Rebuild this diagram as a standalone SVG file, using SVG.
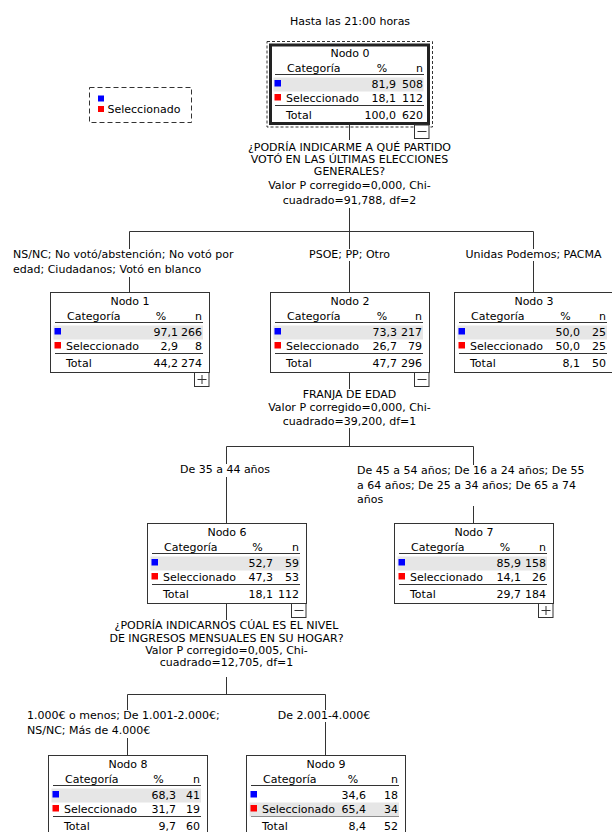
<svg xmlns="http://www.w3.org/2000/svg" width="612" height="832" viewBox="0 0 612 832">
<style>
text{font-family:"DejaVu Sans","Liberation Sans",sans-serif;font-size:11px;fill:#000}
.m{text-anchor:middle}
.e{text-anchor:end}
.ln{stroke:#333;stroke-width:1;fill:none}
.box{fill:#fff;stroke:#333;stroke-width:1}
.band{fill:#e6e6e6}
.blue{fill:#0000ff}
.red{fill:#ff0000}
.tg{fill:#fff;stroke:#333;stroke-width:1}
</style>
<rect width="612" height="832" fill="#fff"/>
<text class="m" x="350" y="25">Hasta las 21:00 horas</text>

<g id="legend">
<rect x="89.5" y="87.5" width="102" height="35" fill="none" stroke="#333" stroke-dasharray="5,3"/>
<rect class="blue" x="98" y="95.5" width="6" height="6"/>
<rect class="red" x="98" y="106" width="6" height="6"/>
<text x="107.5" y="112.5">Seleccionado</text>
</g>

<g id="connectors" class="ln">
<path d="M349.5 125V140M349.5 208V231.5M129.5 231.5H533.5"/>
<path d="M129.5 231.5V249M129.5 277V292"/>
<path d="M349.5 231.5V249M349.5 261V292"/>
<path d="M533.5 231.5V249M533.5 261V292"/>
<path d="M349.5 372V389M349.5 428V446.5M226.5 446.5H473.5"/>
<path d="M226.5 446.5V464M226.5 477V523"/>
<path d="M473.5 446.5V465M473.5 506V523"/>
<path d="M226.5 603V620M226.5 677V694.5M127.5 694.5H325.5"/>
<path d="M127.5 694.5V710M127.5 738V755"/>
<path d="M325.5 694.5V710M325.5 722V755"/>
</g>

<g id="split0">
<text class="m" x="349.5" y="151">¿PODRÍA INDICARME A QUÉ PARTIDO</text>
<text class="m" x="349.5" y="163">VOTÓ EN LAS ÚLTIMAS ELECCIONES</text>
<text class="m" x="349.5" y="175">GENERALES?</text>
<text class="m" x="349.5" y="189">Valor P corregido=0,000, Chi-</text>
<text class="m" x="349.5" y="203.5">cuadrado=91,788, df=2</text>
</g>
<g id="split2">
<text class="m" x="349.5" y="398">FRANJA DE EDAD</text>
<text class="m" x="349.5" y="411">Valor P corregido=0,000, Chi-</text>
<text class="m" x="349.5" y="424.5">cuadrado=39,200, df=1</text>
</g>
<g id="split6">
<text class="m" x="226.5" y="629">¿PODRÍA INDICARNOS CÚAL ES EL NIVEL</text>
<text class="m" x="226.5" y="641.5">DE INGRESOS MENSUALES EN SU HOGAR?</text>
<text class="m" x="226.5" y="653.5">Valor P corregido=0,005, Chi-</text>
<text class="m" x="226.5" y="666">cuadrado=12,705, df=1</text>
</g>

<g id="branch-labels">
<text x="13" y="258">NS/NC; No votó/abstención; No votó por</text>
<text x="13" y="273">edad; Ciudadanos; Votó en blanco</text>
<text class="m" x="349.5" y="258">PSOE; PP; Otro</text>
<text class="m" x="533.5" y="258">Unidas Podemos; PACMA</text>
<text class="m" x="225" y="473">De 35 a 44 años</text>
<text x="357" y="474">De 45 a 54 años; De 16 a 24 años; De 55</text>
<text x="357" y="488.5">a 64 años; De 25 a 34 años; De 65 a 74</text>
<text x="357" y="503">años</text>
<text x="27" y="719">1.000€ o menos; De 1.001-2.000€;</text>
<text x="27" y="734">NS/NC; Más de 4.000€</text>
<text class="m" x="324" y="719">De 2.001-4.000€</text>
</g>

<g id="node0">
<rect x="267" y="41.5" width="165.5" height="85.5" fill="none" stroke="#333" stroke-dasharray="3,2"/>
<rect x="270.5" y="45" width="158" height="78.5" fill="#fff" stroke="#222" stroke-width="3"/>
<g transform="translate(270,44)">
<text class="m" x="80" y="13">Nodo 0</text>
<text x="17" y="28">Categoría</text><text class="m" x="112" y="28">%</text><text class="e" x="153" y="28">n</text>
<path class="ln" d="M5 30.5H154M5 61.5H154"/>
<rect class="band" x="3.5" y="33.5" width="150" height="14"/>
<rect class="blue" x="4.5" y="36" width="6.5" height="6.5"/>
<text class="e" x="126" y="44">81,9</text><text class="e" x="153" y="44">508</text>
<rect class="red" x="4.5" y="50" width="6.5" height="6.5"/>
<text x="16" y="58">Seleccionado</text><text class="e" x="126" y="58">18,1</text><text class="e" x="153" y="58">112</text>
<text x="16" y="75">Total</text><text class="e" x="126" y="75">100,0</text><text class="e" x="153" y="75">620</text>
<rect class="tg" x="144.5" y="81" width="14.5" height="13.5"/><path class="ln" d="M147.5 87.5H156.5"/>
</g>
</g>

<g id="node1" transform="translate(50,292)">
<rect class="box" x="0.5" y="0.5" width="159" height="80"/>
<text class="m" x="80" y="13">Nodo 1</text>
<text x="17" y="28">Categoría</text><text class="m" x="111" y="28">%</text><text class="e" x="152" y="28">n</text>
<path class="ln" d="M5 30.5H153M5 61.5H153"/>
<rect class="band" x="3.5" y="33.5" width="149.5" height="14"/>
<rect class="blue" x="4.5" y="36" width="6.5" height="6.5"/>
<text class="e" x="128" y="44">97,1</text><text class="e" x="152" y="44">266</text>
<rect class="red" x="4.5" y="50" width="6.5" height="6.5"/>
<text x="16" y="58">Seleccionado</text><text class="e" x="128" y="58">2,9</text><text class="e" x="152" y="58">8</text>
<text x="16" y="75">Total</text><text class="e" x="128" y="75">44,2</text><text class="e" x="152" y="75">274</text>
<rect class="tg" x="144.5" y="80.5" width="14.5" height="14"/><path class="ln" d="M147.5 87.5H156.5M152 83V92"/>
</g>

<g id="node2" transform="translate(270,292)">
<rect class="box" x="0.5" y="0.5" width="159" height="80"/>
<text class="m" x="80" y="13">Nodo 2</text>
<text x="17" y="28">Categoría</text><text class="m" x="112" y="28">%</text><text class="e" x="152" y="28">n</text>
<path class="ln" d="M5 30.5H153M5 61.5H153"/>
<rect class="band" x="3.5" y="33.5" width="149.5" height="14"/>
<rect class="blue" x="4.5" y="36" width="6.5" height="6.5"/>
<text class="e" x="127" y="44">73,3</text><text class="e" x="152" y="44">217</text>
<rect class="red" x="4.5" y="50" width="6.5" height="6.5"/>
<text x="16" y="58">Seleccionado</text><text class="e" x="127" y="58">26,7</text><text class="e" x="152" y="58">79</text>
<text x="16" y="75">Total</text><text class="e" x="127" y="75">47,7</text><text class="e" x="152" y="75">296</text>
<rect class="tg" x="144.5" y="80.5" width="14.5" height="14"/><path class="ln" d="M147.5 87.5H156.5"/>
</g>

<g id="node3" transform="translate(454,292)">
<rect class="box" x="0.5" y="0.5" width="159" height="80"/>
<text class="m" x="80" y="13">Nodo 3</text>
<text x="17" y="28">Categoría</text><text class="m" x="111.5" y="28">%</text><text class="e" x="152" y="28">n</text>
<path class="ln" d="M5 30.5H153M5 61.5H153"/>
<rect class="band" x="3.5" y="33.5" width="149.5" height="14"/>
<rect class="blue" x="4.5" y="36" width="6.5" height="6.5"/>
<text class="e" x="126" y="44">50,0</text><text class="e" x="152" y="44">25</text>
<rect class="red" x="4.5" y="50" width="6.5" height="6.5"/>
<text x="16" y="58">Seleccionado</text><text class="e" x="126" y="58">50,0</text><text class="e" x="152" y="58">25</text>
<text x="16" y="75">Total</text><text class="e" x="126" y="75">8,1</text><text class="e" x="152" y="75">50</text>
</g>

<g id="node6" transform="translate(147,523)">
<rect class="box" x="0.5" y="0.5" width="159" height="80"/>
<text class="m" x="80" y="13">Nodo 6</text>
<text x="17" y="28">Categoría</text><text class="m" x="110.5" y="28">%</text><text class="e" x="152" y="28">n</text>
<path class="ln" d="M5 30.5H153M5 61.5H153"/>
<rect class="band" x="3.5" y="33.5" width="149.5" height="14"/>
<rect class="blue" x="4.5" y="36" width="6.5" height="6.5"/>
<text class="e" x="126" y="44">52,7</text><text class="e" x="152" y="44">59</text>
<rect class="red" x="4.5" y="50" width="6.5" height="6.5"/>
<text x="16" y="58">Seleccionado</text><text class="e" x="126" y="58">47,3</text><text class="e" x="152" y="58">53</text>
<text x="16" y="75">Total</text><text class="e" x="126" y="75">18,1</text><text class="e" x="152" y="75">112</text>
<rect class="tg" x="144.5" y="80.5" width="14.5" height="14"/><path class="ln" d="M147.5 87.5H156.5"/>
</g>

<g id="node7" transform="translate(394,523)">
<rect class="box" x="0.5" y="0.5" width="159" height="80"/>
<text class="m" x="80" y="13">Nodo 7</text>
<text x="17" y="28">Categoría</text><text class="m" x="111" y="28">%</text><text class="e" x="152" y="28">n</text>
<path class="ln" d="M5 30.5H153M5 61.5H153"/>
<rect class="band" x="3.5" y="33.5" width="149.5" height="14"/>
<rect class="blue" x="4.5" y="36" width="6.5" height="6.5"/>
<text class="e" x="127" y="44">85,9</text><text class="e" x="152" y="44">158</text>
<rect class="red" x="4.5" y="50" width="6.5" height="6.5"/>
<text x="16" y="58">Seleccionado</text><text class="e" x="127" y="58">14,1</text><text class="e" x="152" y="58">26</text>
<text x="16" y="75">Total</text><text class="e" x="127" y="75">29,7</text><text class="e" x="152" y="75">184</text>
<rect class="tg" x="144.5" y="80.5" width="14.5" height="14"/><path class="ln" d="M147.5 87.5H156.5M152 83V92"/>
</g>

<g id="node8" transform="translate(48,755)">
<rect class="box" x="0.5" y="0.5" width="159" height="80"/>
<text class="m" x="80" y="13">Nodo 8</text>
<text x="17" y="28">Categoría</text><text class="m" x="110.5" y="28">%</text><text class="e" x="152" y="28">n</text>
<path class="ln" d="M5 30.5H153M5 61.5H153"/>
<rect class="band" x="3.5" y="33.5" width="149.5" height="14"/>
<rect class="blue" x="4.5" y="36" width="6.5" height="6.5"/>
<text class="e" x="128" y="44">68,3</text><text class="e" x="152" y="44">41</text>
<rect class="red" x="4.5" y="50" width="6.5" height="6.5"/>
<text x="16" y="58">Seleccionado</text><text class="e" x="128" y="58">31,7</text><text class="e" x="152" y="58">19</text>
<text x="16" y="75">Total</text><text class="e" x="128" y="75">9,7</text><text class="e" x="152" y="75">60</text>
</g>

<g id="node9" transform="translate(246,755)">
<rect class="box" x="0.5" y="0.5" width="159" height="80"/>
<text class="m" x="80" y="13">Nodo 9</text>
<text x="17" y="28">Categoría</text><text class="m" x="107" y="28">%</text><text class="e" x="152" y="28">n</text>
<path class="ln" d="M5 30.5H153M5 61.5H153"/>
<rect class="band" x="3.5" y="47.5" width="149.5" height="14"/>
<rect class="blue" x="4.5" y="36" width="6.5" height="6.5"/>
<text class="e" x="120" y="44">34,6</text><text class="e" x="152" y="44">18</text>
<rect class="red" x="4.5" y="50" width="6.5" height="6.5"/>
<text x="16" y="58">Seleccionado</text><text class="e" x="120" y="58">65,4</text><text class="e" x="152" y="58">34</text>
<text x="16" y="75">Total</text><text class="e" x="120" y="75">8,4</text><text class="e" x="152" y="75">52</text>
</g>
</svg>
